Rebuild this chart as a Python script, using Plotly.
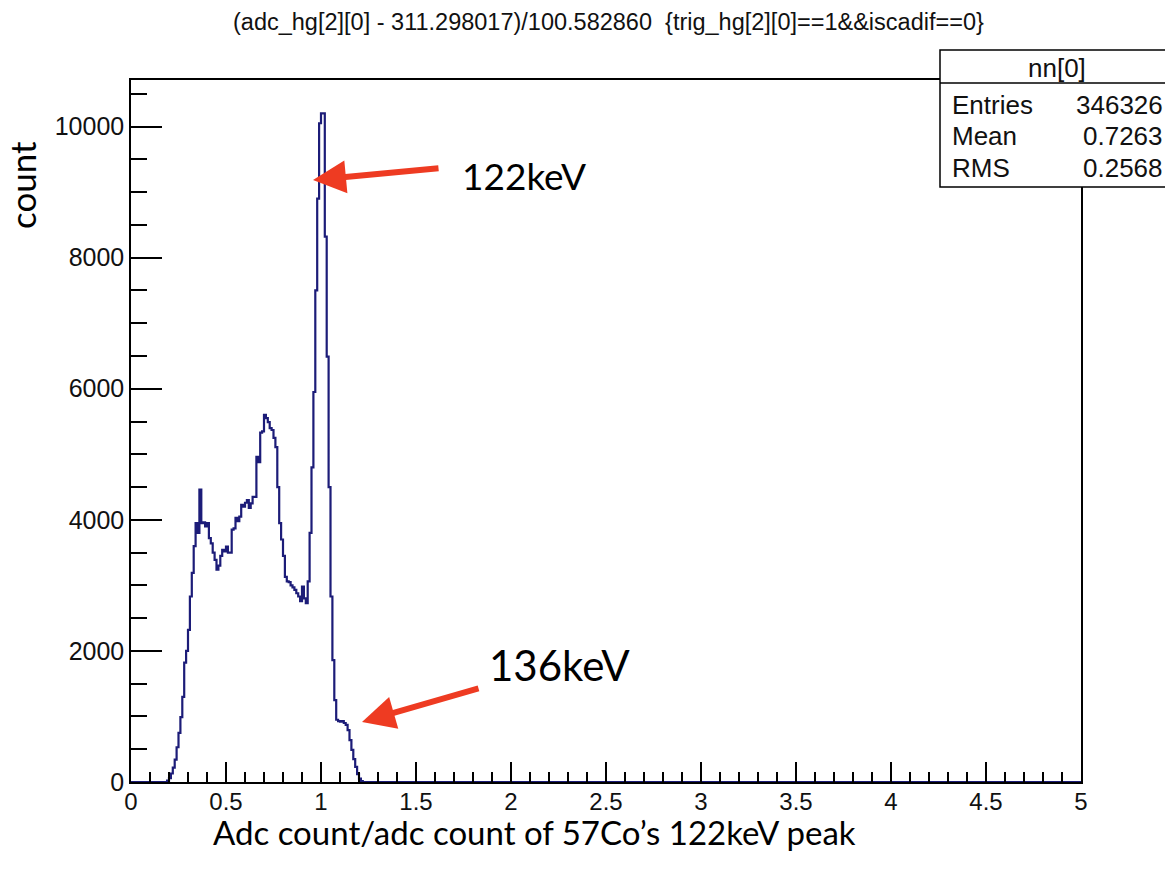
import plotly.graph_objects as go

# Histogram of normalised ADC values, 0.01-wide bins on [0, 5]
bin_width = 0.01
first_bin = 0.19
x_min, x_max = 0.0, 5.0
counts = [
    20, 60, 130, 220, 340, 530, 750, 990, 1300, 1820,          # 0.19 - 0.28
    2000, 2320, 2830, 3190, 3600, 3950, 3800, 4460, 3950, 3960,  # 0.29 - 0.38
    3900, 3950, 3720, 3640, 3500, 3390, 3240, 3300, 3450, 3540,  # 0.39 - 0.48
    3520, 3590, 3500, 3500, 3850, 3870, 4030, 3980, 4050, 4230,  # 0.49 - 0.58
    4200, 4260, 4300, 4180, 4250, 4350, 4350, 4960, 4880, 5330,  # 0.59 - 0.68
    5350, 5600, 5550, 5490, 5400, 5370, 5250, 5110, 4500, 3950,  # 0.69 - 0.78
    3700, 3450, 3130, 3060, 3050, 3000, 2970, 2930, 2880, 2830,  # 0.79 - 0.88
    2760, 2980, 2800, 2730, 3060, 3800, 4800, 5950, 7500, 8900,  # 0.89 - 0.98
    10050, 10200, 10200, 8320, 6490, 4500, 2830, 1860, 1250, 950,  # 0.99 - 1.08
    930, 920, 930, 900, 870, 790, 640, 490, 350, 230,            # 1.09 - 1.18
    120, 50, 15,                                                 # 1.19 - 1.21
]

title_text = "(adc_hg[2][0] - 311.298017)/100.582860  {trig_hg[2][0]==1&&iscadif==0}"
stats_name = "nn[0]"
stats_labels = ["Entries", "Mean", "RMS"]
stats_values = ["346326", "0.7263", "0.2568"]
peak_labels = ["122keV", "136keV"]
x_title = "Adc count/adc count of 57Co\u2019s 122keV peak"
y_title = "count"

W, H = 1165, 871
L, R, T, B = 131, 1081, 80, 782  # plot-area frame in pixels


def px(x):
    return (x - L) / (R - L)


def py(y):
    return (B - y) / (B - T)


# step outline: ROOT-style histogram contour
edges = [first_bin + i * bin_width for i in range(len(counts) + 1)]
sx = [x_min] + edges + [x_max]
sy = [0] + counts + [0, 0]

fig = go.Figure()
fig.add_trace(go.Scatter(
    x=sx, y=sy, mode="lines", line=dict(shape="hv", color="#1c1c78", width=2.2),
    hoverinfo="skip", showlegend=False,
))

tick_font = dict(family="Liberation Sans, Arial, sans-serif", size=24, color="#111")
fig.update_xaxes(
    range=[x_min, x_max], showgrid=False, zeroline=False,
    showline=True, mirror=True, linecolor="black", linewidth=1.5,
    ticks="inside", ticklen=20, tickwidth=1.5, tickcolor="black", dtick=0.5, tick0=0,
    minor=dict(ticks="inside", ticklen=10, tickwidth=1.5, tickcolor="black", dtick=0.1),
    tickfont=tick_font, tickformat=".1~f", ticklabelstandoff=-3,
)
fig.update_yaxes(
    range=[0, 1.05 * max(counts)], showgrid=False, zeroline=False,
    showline=True, mirror=True, linecolor="black", linewidth=1.5,
    ticks="inside", ticklen=31, tickwidth=1.5, tickcolor="black", dtick=2000, tick0=0,
    minor=dict(ticks="inside", ticklen=16, tickwidth=1.5, tickcolor="black", dtick=500),
    tickfont=dict(family="Liberation Sans, Arial, sans-serif", size=25, color="#111"),
    tickformat="d",
)

shapes = []
ann = []

# statistics box
bx0, bx1, by0, by1, bsep = 940, 1175, 50, 187, 83
shapes.append(dict(type="rect", xref="paper", yref="paper",
                   x0=px(bx0), x1=px(bx1), y0=py(by1), y1=py(by0),
                   fillcolor="white", line=dict(color="black", width=1.5), layer="above"))
shapes.append(dict(type="line", xref="paper", yref="paper",
                   x0=px(bx0), x1=px(bx1), y0=py(bsep), y1=py(bsep),
                   line=dict(color="black", width=1.5), layer="above"))
stat_font = dict(family="Liberation Sans, Arial, sans-serif", size=26, color="#111")
ann.append(dict(xref="paper", yref="paper", x=px(1057), y=py(68), text=stats_name,
                showarrow=False, xanchor="center", yanchor="middle", font=stat_font))
for i, (lab, val) in enumerate(zip(stats_labels, stats_values)):
    yy = py(105 + i * 31.5)
    ann.append(dict(xref="paper", yref="paper", x=px(950), y=yy, text=lab,
                    showarrow=False, xanchor="left", yanchor="middle", font=stat_font))
    ann.append(dict(xref="paper", yref="paper", x=px(1165), y=yy, text=val,
                    showarrow=False, xanchor="right", yanchor="middle", font=stat_font))

# title
ann.append(dict(xref="paper", yref="paper", x=px(608), y=py(22), text=title_text,
                showarrow=False, xanchor="center", yanchor="middle",
                font=dict(family="Liberation Sans, Arial, sans-serif", size=23.5, color="#111")))

# axis titles
label_font = dict(family="Lato, Calibri, sans-serif", size=33, color="black")
ann.append(dict(xref="paper", yref="paper", x=px(534), y=py(832), text=x_title,
                showarrow=False, xanchor="center", yanchor="middle", font=label_font))
ann.append(dict(xref="paper", yref="paper", x=px(22), y=py(185), text=y_title,
                showarrow=False, xanchor="center", yanchor="middle", textangle=-90,
                font=dict(family="Lato, Calibri, sans-serif", size=35, color="black")))

# peak markers: red arrows with labels
arrow_red = "#ee3b22"
arrows = [((313, 180), (440, 168), (460, 175), 37),
          ((362, 722), (480, 688), (487, 665), 42)]
for (head, tail, txt_pos, fs), lab in zip(arrows, peak_labels):
    ann.append(dict(xref="paper", yref="paper", x=px(head[0]), y=py(head[1]),
                    axref="pixel", ayref="pixel",
                    ax=tail[0] - head[0], ay=tail[1] - head[1],
                    text="", showarrow=True, arrowhead=2, arrowwidth=6, arrowsize=1.1,
                    arrowcolor=arrow_red, standoff=0, startstandoff=0))
    ann.append(dict(xref="paper", yref="paper", x=px(txt_pos[0]), y=py(txt_pos[1]),
                    text=lab, showarrow=False, xanchor="left", yanchor="middle",
                    font=dict(family="Lato, Calibri, sans-serif", size=fs, color="black")))

fig.update_layout(
    width=W, height=H,
    margin=dict(l=L, r=W - R, t=T, b=H - B, autoexpand=False),
    paper_bgcolor="white", plot_bgcolor="white",
    shapes=shapes, annotations=ann, showlegend=False,
)

fig.write_html("out.html")
